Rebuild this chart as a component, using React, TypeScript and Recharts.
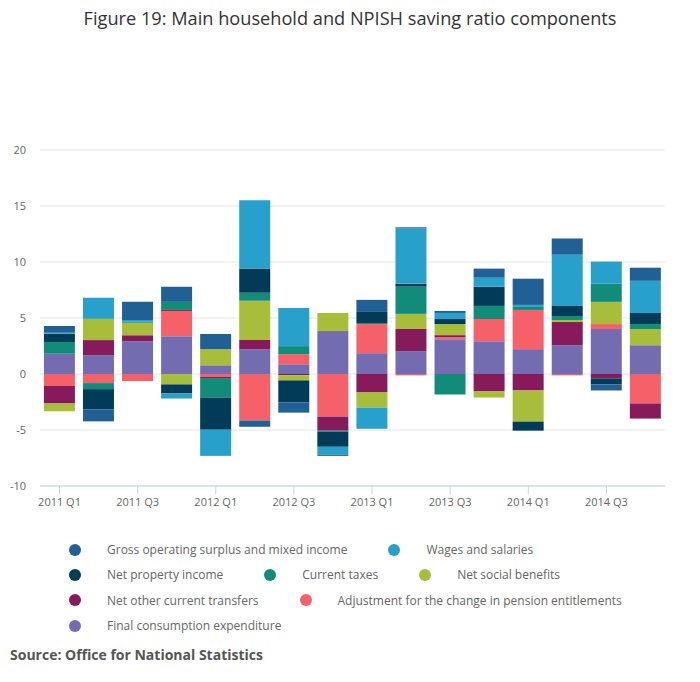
import React from "react";
import { BarChart, Bar, XAxis, YAxis, CartesianGrid } from "recharts";

const quarters = [
  "2011 Q1", "2011 Q2", "2011 Q3", "2011 Q4",
  "2012 Q1", "2012 Q2", "2012 Q3", "2012 Q4",
  "2013 Q1", "2013 Q2", "2013 Q3", "2013 Q4",
  "2014 Q1", "2014 Q2", "2014 Q3", "2014 Q4",
];

const fce = [1.8, 1.68, 2.93, 3.38, 0.78, 2.22, 0.87, 3.83, 1.86, 2.04, 3.11, 2.93, 2.22, 2.57, 4.01, 2.57];
const pension = [-1.08, -0.81, -0.63, 2.25, -0.27, -4.16, 0.9, -3.8, 2.6, -0.12, 0.18, 1.98, 3.5, -0.12, 0.45, -2.63];
const otherTransfers = [-1.56, 1.35, 0.54, 0.09, -0.09, 0.81, -0.12, -1.26, -1.65, 1.98, 0.18, -1.56, -1.47, 2.07, -0.39, -1.35];
const socialBenefits = [-0.69, 1.89, 1.11, -0.93, 1.44, 3.5, -0.45, 1.62, -1.35, 1.35, 0.99, -0.54, -2.78, 0.18, 1.98, 1.44];
const currentTaxes = [1.05, -0.54, 0.09, 0.72, -1.74, 0.72, 0.72, -0.09, 0.09, 2.43, -1.83, 1.17, 0.27, 0.36, 1.62, 0.45];
const propertyIncome = [0.75, -1.8, 0, -0.81, -2.87, 2.16, -1.98, -1.35, 0.99, 0.27, 0.45, 1.71, -0.81, 0.9, -0.54, 0.99];
const wages = [0.09, 1.89, 0.15, -0.45, -2.34, 6.11, 3.41, -0.72, -1.89, 4.94, 0.54, 0.81, 0.18, 4.58, 1.98, 2.87];
const gos = [0.6, -1.08, 1.62, 1.35, 1.35, -0.54, -0.9, -0.09, 1.08, 0.09, 0.18, 0.81, 2.34, 1.44, -0.54, 1.17];

const yTicks = [-10, -5, 0, 5, 10, 15, 20];

// stacking order (from zero outward)
const series = [
  { key: "fce", name: "Final consumption expenditure", color: "#746cb1", values: fce },
  { key: "pension", name: "Adjustment for the change in pension entitlements", color: "#f66068", values: pension },
  { key: "other", name: "Net other current transfers", color: "#871a5b", values: otherTransfers },
  { key: "social", name: "Net social benefits", color: "#a8bd3a", values: socialBenefits },
  { key: "taxes", name: "Current taxes", color: "#118c7b", values: currentTaxes },
  { key: "property", name: "Net property income", color: "#003c57", values: propertyIncome },
  { key: "wages", name: "Wages and salaries", color: "#27a0cc", values: wages },
  { key: "gos", name: "Gross operating surplus and mixed income", color: "#206095", values: gos },
];

const legendOrder = ["gos", "wages", "property", "taxes", "social", "other", "pension", "fce"];

const data = quarters.map((q, i) => {
  const row: Record<string, string | number> = { q };
  series.forEach((s) => {
    row[s.key] = s.values[i];
  });
  return row;
});

const font = "'Open Sans', 'Noto Sans', sans-serif";

export default function App() {
  return (
    <div style={{ position: "absolute", left: 0, top: 0, width: 700, height: 682, background: "#fff", fontFamily: font }}>
      <div
        style={{
          position: "absolute",
          top: 5,
          left: 0,
          width: 700,
          textAlign: "center",
          fontSize: 18.2,
          color: "#333",
          lineHeight: "26px",
        }}
      >
        Figure 19: Main household and NPISH saving ratio components
      </div>
      <div style={{ position: "absolute", left: 0, top: 0 }}>
        <BarChart
          width={700}
          height={531}
          data={data}
          stackOffset="sign"
          barCategoryGap="10%"
          margin={{ top: 150, right: 35, left: 0, bottom: 15 }}
        >
          <CartesianGrid vertical={false} stroke="#e5e5e5" />
          <XAxis
            dataKey="q"
            interval={1}
            tickSize={8}
            tickMargin={4}
            axisLine={{ stroke: "#c6d3e6" }}
            tickLine={{ stroke: "#c6d3e6" }}
            tick={{ fill: "#666", fontSize: 11, fontFamily: font }}
          />
          <YAxis
            domain={[-10, 20]}
            ticks={yTicks}
            width={40}
            axisLine={false}
            tickLine={false}
            tickMargin={8}
            tick={{ fill: "#666", fontSize: 11, fontFamily: font }}
          />
          {series.map((s) => (
            <Bar key={s.key} dataKey={s.key} name={s.name} stackId="a" fill={s.color} isAnimationActive={false} />
          ))}
        </BarChart>
      </div>
      <div
        style={{
          position: "absolute",
          left: 69,
          top: 537,
          width: 615,
          display: "flex",
          flexWrap: "wrap",
          columnGap: 41,
          rowGap: 0,
        }}
      >
        {legendOrder.map((k) => {
          const s = series.find((x) => x.key === k)!;
          return (
            <div key={k} style={{ display: "flex", alignItems: "center", height: 25.3 }}>
              <span
                style={{
                  display: "inline-block",
                  width: 12,
                  height: 12,
                  borderRadius: 6,
                  background: s.color,
                  marginRight: 26,
                }}
              />
              <span style={{ fontSize: 12, color: "#666", whiteSpace: "nowrap" }}>{s.name}</span>
            </div>
          );
        })}
      </div>
      <div
        style={{
          position: "absolute",
          left: 10,
          top: 645,
          fontSize: 14,
          fontWeight: 700,
          color: "#555",
          lineHeight: "20px",
        }}
      >
        Source: Office for National Statistics
      </div>
    </div>
  );
}
